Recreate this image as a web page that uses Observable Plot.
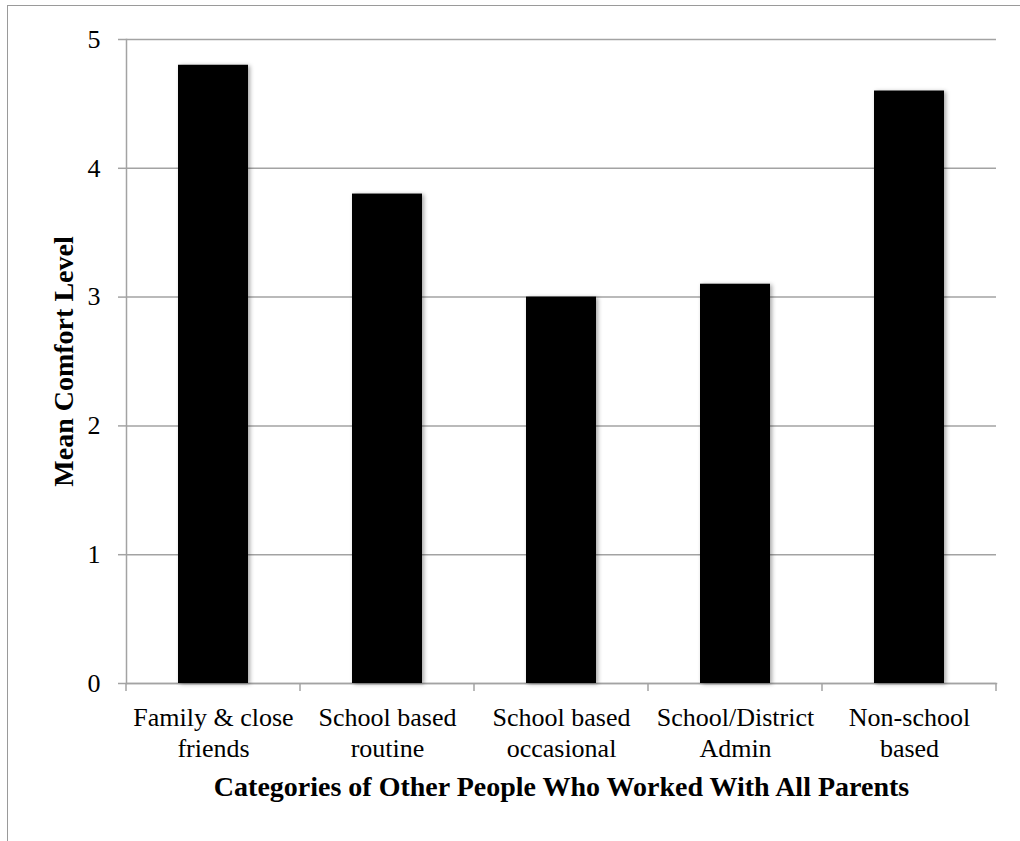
<!DOCTYPE html>
<html>
<head>
<meta charset="utf-8">
<script src="https://cdn.jsdelivr.net/npm/d3@7"></script>
<script src="https://cdn.jsdelivr.net/npm/@observablehq/plot@0.6"></script>
<style>
  html, body { margin: 0; padding: 0; background: #fff; }
  #wrap { position: relative; width: 1020px; height: 841px; overflow: hidden; }
  #frame { position: absolute; left: 7px; top: 5px; right: 0; bottom: 0;
           border-top: 1.5px solid #9a9a9a; border-left: 1.5px solid #9a9a9a; }
  #chart { position: absolute; left: 0; top: 0; }
  .comfort g[aria-label="bar"] rect { filter: drop-shadow(2px 1px 2px rgba(0,0,0,0.35)); }
</style>
</head>
<body>
<div id="wrap"><div id="frame"></div><div id="chart"></div></div>
<script>
// Mean comfort level by category of other people who worked with all parents
const categories = [
  "Family & close friends",
  "School based routine",
  "School based occasional",
  "School/District Admin",
  "Non-school based"
];
const tickLabels = [
  "Family & close\nfriends",
  "School based\nroutine",
  "School based\noccasional",
  "School/District\nAdmin",
  "Non-school\nbased"
];
const meanComfort = [4.8, 3.8, 3.0, 3.1, 4.6];
const yTicks = [0, 1, 2, 3, 4, 5];
const xTitle = "Categories of Other People Who Worked With All Parents";
const yTitle = "Mean Comfort Level";

const rows = categories.map((c, i) => ({category: c, value: meanComfort[i]}));
const labelOf = new Map(categories.map((c, i) => [c, tickLabels[i]]));

const gray = "#a3a3a3";
const font = "'Liberation Serif', serif";

// tick marks on the category axis sit at the band boundaries
function bandBoundaryTicks(index, scales, values, dims) {
  const x = scales.x, bw = x.bandwidth ? x.bandwidth() : 0;
  const centers = categories.map(c => x(c) + bw / 2);
  const edges = [dims.marginLeft];
  for (let i = 1; i < centers.length; i++) edges.push((centers[i - 1] + centers[i]) / 2);
  edges.push(dims.width - dims.marginRight);
  const y0 = scales.y(0);
  const g = d3.create("svg:g").attr("stroke", gray).attr("stroke-width", 1.5);
  g.selectAll("line").data(edges).join("line")
    .attr("x1", d => d).attr("x2", d => d)
    .attr("y1", y0).attr("y2", y0 + 8);
  return g.node();
}

const chart = Plot.plot({
  width: 1020,
  height: 841,
  marginLeft: 126,
  marginRight: 24,
  marginTop: 39,
  marginBottom: 158,
  className: "comfort",
  style: {fontFamily: font, fontSize: "26px", color: "#000", background: "transparent"},
  x: {domain: categories, paddingInner: 0.6, paddingOuter: 0.3, label: null},
  y: {domain: [0, 5], label: null},
  marks: [
    Plot.gridY(yTicks, {stroke: gray, strokeOpacity: 1, strokeWidth: 1.5}),
    Plot.axisY(yTicks, {tickSize: 8, tickPadding: 18, stroke: gray, strokeWidth: 1.5,
                        fontSize: 26, fill: "#000", tickFormat: d3.format("d"), label: null}),
    Plot.axisX({tickSize: 0, tickPadding: 20, fontSize: 26, fill: "#000", lineHeight: 1.2,
                tickFormat: d => labelOf.get(d), label: null}),
    Plot.frame({anchor: "left", stroke: gray, strokeWidth: 1.5}),
    Plot.frame({anchor: "bottom", stroke: gray, strokeWidth: 1.5}),
    bandBoundaryTicks,
    Plot.barY(rows, {x: "category", y: "value", fill: "#000"}),
    Plot.text([xTitle], {frameAnchor: "bottom", dy: 112, fontWeight: "bold", fontSize: 28, fill: "#000"}),
    Plot.text([yTitle], {frameAnchor: "left", textAnchor: "middle", rotate: -90, dx: -62,
                         fontWeight: "bold", fontSize: 28, fill: "#000"})
  ]
});
document.getElementById("chart").appendChild(chart);
</script>
</body>
</html>
